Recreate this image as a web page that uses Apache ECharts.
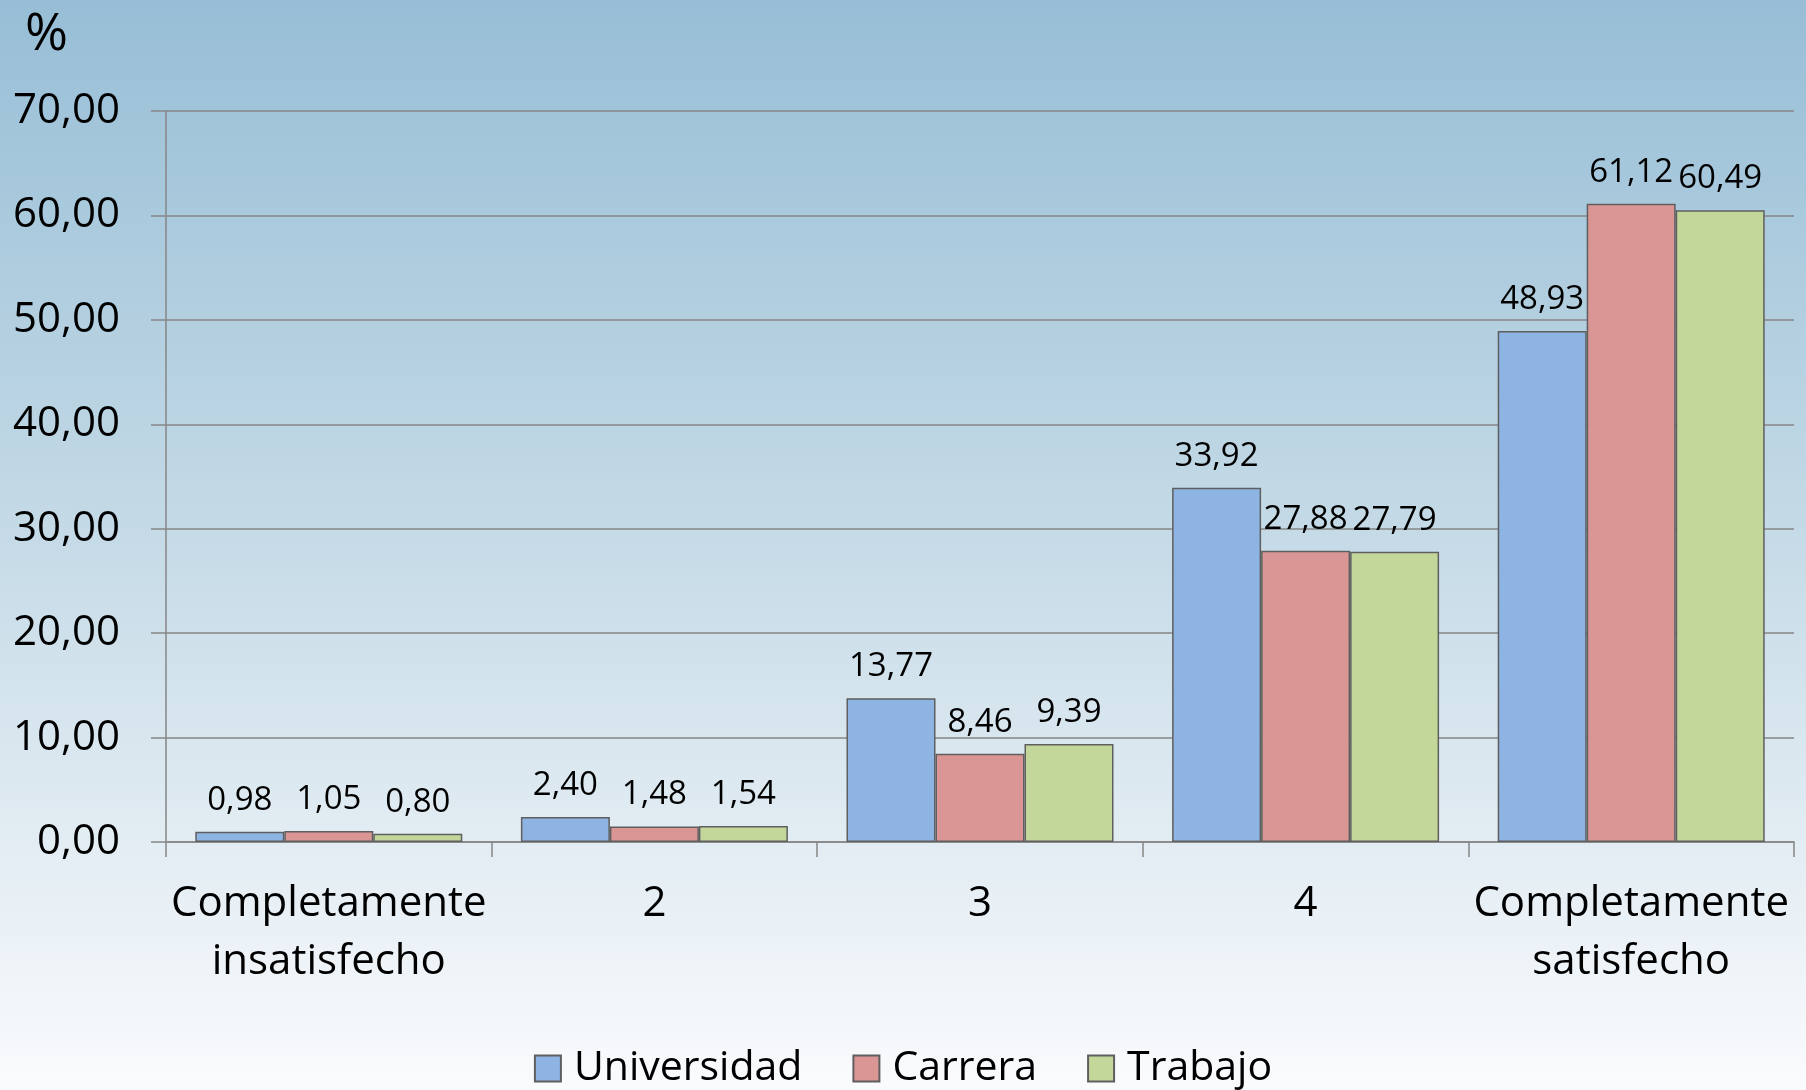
<!DOCTYPE html>
<html>
<head>
    <meta charset="utf-8">
    <title>ECharts</title>
    <script src="https://cdn.jsdelivr.net/npm/echarts@6/dist/echarts.min.js"></script>
</head>
<body style="margin:0;padding:0">
<div id="main" style="width:1806px;height:1090px"></div>
<script type="text/javascript">
    var categories = ['Completamente\ninsatisfecho', '2', '3', '4', 'Completamente\nsatisfecho'];
    var universidad = [0.98, 2.40, 13.77, 33.92, 48.93];
    var carrera = [1.05, 1.48, 8.46, 27.88, 61.12];
    var trabajo = [0.80, 1.54, 9.39, 27.79, 60.49];
    var colors = ['#8eb4e3', '#da9694', '#c4d79b'];

    var myChart = echarts.init(document.getElementById('main'));
    var font = 'Open Sans';

    function fmt(v) {
        return v.toFixed(2).replace('.', ',');
    }

    function makeSeries(name, data, color) {
        return {
            name: name,
            type: 'bar',
            data: data,
            barGap: '0%',
            barCategoryGap: '18%',
            itemStyle: {
                color: color,
                borderColor: '#5f5f5f',
                borderWidth: 1.5
            },
            label: {
                show: true,
                position: 'top',
                distance: 15,
                color: '#000',
                fontFamily: font,
                fontSize: 33,
                formatter: function (p) { return fmt(p.value); }
            }
        };
    }

    var option = {
        backgroundColor: new echarts.graphic.LinearGradient(0, 0, 0, 1, [
            {offset: 0, color: '#97bed6'},
            {offset: 0.5, color: '#c6dbe7'},
            {offset: 1, color: '#fafbfd'}
        ]),
        animation: false,
        title: {
            text: '%',
            left: 20,
            top: 4,
            textStyle: {fontFamily: font, fontSize: 52, fontWeight: 'normal', color: '#000'}
        },
        legend: {
            bottom: -4,
            left: 'center',
            icon: 'rect',
            itemWidth: 26,
            itemHeight: 26,
            itemGap: 50,
            textStyle: {fontFamily: font, fontSize: 41, color: '#000', padding: [0, 0, 0, 8]},
            data: ['Universidad', 'Carrera', 'Trabajo']
        },
        grid: {
            left: 166,
            right: 12,
            top: 111,
            bottom: 248
        },
        xAxis: {
            type: 'category',
            data: categories,
            axisLine: {lineStyle: {color: '#868686', width: 1.5}},
            axisTick: {show: true, length: 15, interval: 0, lineStyle: {color: '#868686', width: 1.5}},
            axisLabel: {
                interval: 0,
                margin: 33,
                color: '#000',
                fontFamily: font,
                fontSize: 42,
                lineHeight: 58
            }
        },
        yAxis: {
            type: 'value',
            min: 0,
            max: 70,
            interval: 10,
            axisLine: {show: true, lineStyle: {color: '#868686', width: 1.5}},
            axisTick: {show: true, length: 15, lineStyle: {color: '#868686', width: 1.5}},
            splitLine: {lineStyle: {color: '#868686', width: 1.5}},
            axisLabel: {
                margin: 46,
                color: '#000',
                fontFamily: font,
                fontSize: 42,
                formatter: function (v) { return fmt(v); }
            }
        },
        series: [
            makeSeries('Universidad', universidad, colors[0]),
            makeSeries('Carrera', carrera, colors[1]),
            makeSeries('Trabajo', trabajo, colors[2])
        ]
    };

    myChart.setOption(option);
</script>
</body>
</html>
